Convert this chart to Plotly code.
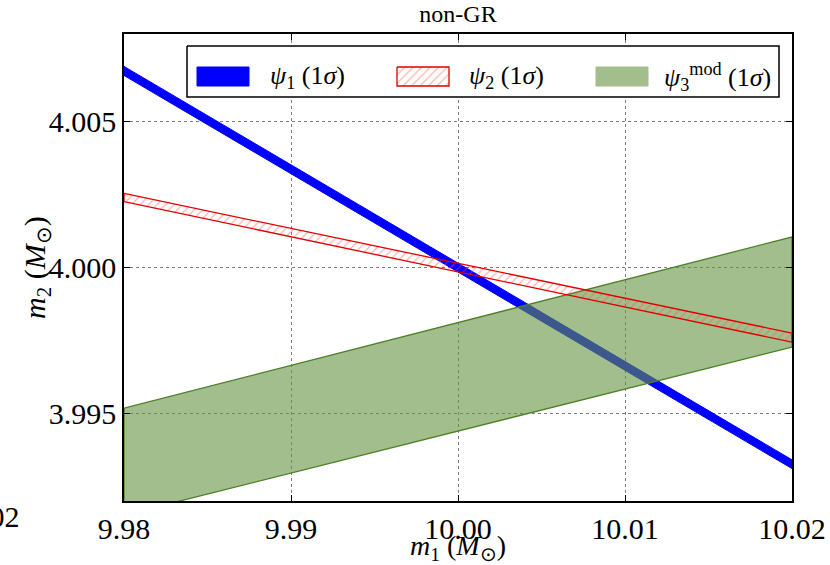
import plotly.graph_objects as go

# ---- data ----
m1_ends = [9.98, 10.02]
psi1_upper = [4.00687, 3.99340]
psi1_lower = [4.00656, 3.99310]
psi2_upper = [4.00252, 3.99774]
psi2_lower = [4.00224, 3.99743]
psi3_upper = [3.99517, 4.00103]
psi3_lower = [3.99151, 3.99726]

x_ticks = [9.98, 9.99, 10.00, 10.01, 10.02]
x_ticklabels = ["9.98", "9.99", "10.00", "10.01", "10.02"]
y_ticks = [3.995, 4.000, 4.005]
y_ticklabels = ["3.995", "4.000", "4.005"]

legend_labels = ["<i>ψ</i><sub>1</sub> (1<i>σ</i>)",
                 "<i>ψ</i><sub>2</sub> (1<i>σ</i>)",
                 "<i>ψ</i><sub>3</sub><sup>mod</sup> (1<i>σ</i>)"]
x_title = "<i>m</i><sub>1</sub> (<i>M</i><sub>⊙</sub>)"
y_title = "<i>m</i><sub>2</sub> (<i>M</i><sub>⊙</sub>)"

FONT = "Liberation Serif"
BLUE = "#0000ff"
RED = "#e00000"
HATCH = "rgba(255,80,80,0.9)"
GREEN_FILL = "rgba(100,147,63,0.6)"
GREEN_EDGE = "rgb(77,128,38)"

def band(xe, up, lo):
    return [xe[0], xe[1], xe[1], xe[0], xe[0]], [up[0], up[1], lo[1], lo[0], up[0]]

def rect(x0, x1, y0, y1):
    return [x0, x1, x1, x0, x0], [y0, y0, y1, y1, y0]

fig = go.Figure()

bx, by = band(m1_ends, psi1_upper, psi1_lower)
fig.add_trace(go.Scatter(x=bx, y=by, fill="toself", mode="lines",
                         line=dict(color=BLUE, width=1), fillcolor=BLUE,
                         name=legend_labels[0], showlegend=False, hoverinfo="skip"))

gx, gy = band(m1_ends, psi3_upper, psi3_lower)
fig.add_trace(go.Scatter(x=gx, y=gy, fill="toself", mode="lines",
                         line=dict(color=GREEN_EDGE, width=1.3), fillcolor=GREEN_FILL,
                         name=legend_labels[2], showlegend=False, hoverinfo="skip"))

rx, ry = band(m1_ends, psi2_upper, psi2_lower)
fig.add_trace(go.Scatter(x=rx, y=ry, fill="toself", mode="lines",
                         line=dict(color=RED, width=1.3), fillcolor="rgba(0,0,0,0)",
                         fillpattern=dict(shape="/", fgcolor=HATCH, bgcolor="rgba(0,0,0,0)",
                                          size=6, solidity=0.2),
                         name=legend_labels[1], showlegend=False, hoverinfo="skip"))

# ---- custom legend drawn on an overlay axis in pixel units of the plot area ----
PL, PR, PT, PB = 124, 792, 34, 501
box_x, box_y = rect(187, 779, 46, 97)
fig.add_trace(go.Scatter(x=box_x, y=box_y, xaxis="x2", yaxis="y2", fill="toself",
                         mode="lines", line=dict(color="black", width=1.5),
                         fillcolor="white", showlegend=False, hoverinfo="skip"))
icon_left = [197, 397, 596]
icon_w, icon_top, icon_bot = 52, 67, 86
ix, iy = rect(icon_left[0], icon_left[0] + icon_w, icon_top, icon_bot)
fig.add_trace(go.Scatter(x=ix, y=iy, xaxis="x2", yaxis="y2", fill="toself", mode="lines",
                         line=dict(color=BLUE, width=1), fillcolor=BLUE,
                         showlegend=False, hoverinfo="skip"))
ix, iy = rect(icon_left[1], icon_left[1] + icon_w, icon_top, icon_bot)
fig.add_trace(go.Scatter(x=ix, y=iy, xaxis="x2", yaxis="y2", fill="toself", mode="lines",
                         line=dict(color=RED, width=1.3), fillcolor="rgba(0,0,0,0)",
                         fillpattern=dict(shape="/", fgcolor=HATCH, bgcolor="rgba(0,0,0,0)",
                                          size=6, solidity=0.2),
                         showlegend=False, hoverinfo="skip"))
ix, iy = rect(icon_left[2], icon_left[2] + icon_w, icon_top, icon_bot)
fig.add_trace(go.Scatter(x=ix, y=iy, xaxis="x2", yaxis="y2", fill="toself", mode="lines",
                         line=dict(color="rgb(160,190,140)", width=1), fillcolor="rgb(162,190,140)",
                         showlegend=False, hoverinfo="skip"))

text_left = [268, 467, 662]
for tl, lab in zip(text_left, legend_labels):
    fig.add_annotation(text=lab, xref="x2", yref="y2", x=tl, y=77,
                       xanchor="left", yanchor="middle", showarrow=False,
                       font=dict(size=26, family=FONT, color="black"))

fig.update_layout(
    width=830, height=565,
    margin=dict(l=PL, r=830 - PR, t=PT, b=565 - PB, autoexpand=False),
    paper_bgcolor="white", plot_bgcolor="white",
    font=dict(family=FONT, size=26, color="black"),
    title=dict(text="non-GR", x=0.5, xref="paper", xanchor="center",
               y=0.99, yanchor="top", font=dict(size=24, family=FONT)),
    showlegend=False,
    xaxis=dict(range=[9.98, 10.02], tickvals=x_ticks, ticktext=x_ticklabels,
               showgrid=True, gridcolor="rgba(0,0,0,0.5)", griddash="dot", gridwidth=1,
               showline=True, linecolor="black", linewidth=1.5, mirror="ticks",
               ticks="inside", ticklen=6, tickcolor="black", automargin=False,
               zeroline=False, tickfont=dict(size=30, family=FONT)),
    yaxis=dict(range=[3.99199, 4.00798], tickvals=y_ticks, ticktext=y_ticklabels,
               showgrid=True, gridcolor="rgba(0,0,0,0.5)", griddash="dot", gridwidth=1,
               showline=True, linecolor="black", linewidth=1.5, mirror="ticks",
               ticks="inside", ticklen=6, tickcolor="black", automargin=False,
               zeroline=False, tickfont=dict(size=30, family=FONT)),
    xaxis2=dict(overlaying="x", range=[PL, PR], visible=False, fixedrange=True),
    yaxis2=dict(overlaying="y", range=[PB, PT], visible=False, fixedrange=True),
)

# axis titles
fig.add_annotation(text=x_title, xref="paper", yref="paper", x=0.5, y=-0.1,
                   xanchor="center", yanchor="middle", showarrow=False,
                   font=dict(size=28, family=FONT))
fig.add_annotation(text=y_title, xref="paper", yref="paper", x=-0.131, y=0.5,
                   xanchor="center", yanchor="middle", textangle=-90, showarrow=False,
                   font=dict(size=30, family=FONT))

# clipped leftover tick label at the bottom-left edge
fig.add_annotation(text="10.02", xref="paper", yref="paper", x=-0.152, y=-0.034,
                   xanchor="right", yanchor="middle", showarrow=False,
                   font=dict(size=30, family=FONT))

fig.write_html("out.html")
